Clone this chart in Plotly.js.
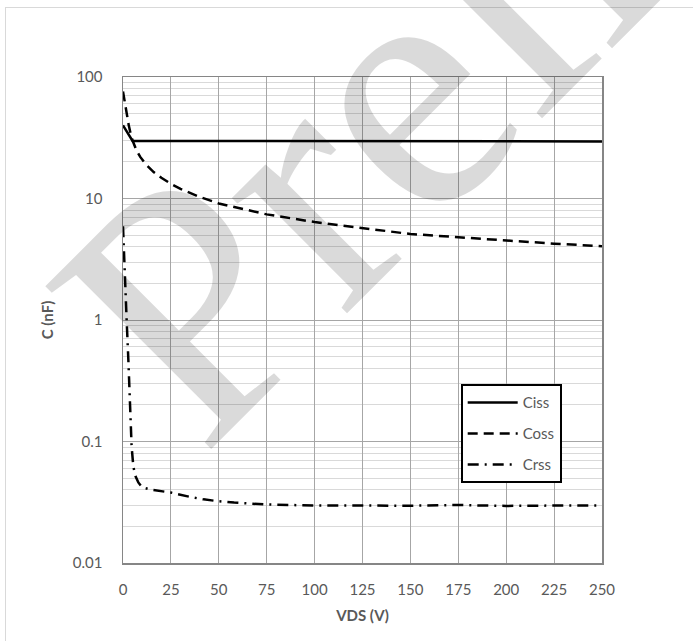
<!DOCTYPE html>
<html>
<head>
<meta charset="utf-8">
<script src="https://cdn.plot.ly/plotly-3.0.1.min.js"></script>
<style>
  html, body { margin: 0; padding: 0; background: #ffffff; }
  #wrap { position: relative; width: 693px; height: 641px; overflow: hidden; background: #ffffff; }
  #frame { position: absolute; left: 5px; top: 7px; width: 720px; height: 660px; border: 1px solid #d9d9d9; box-sizing: border-box; }
  #chart { position: absolute; left: 0; top: 0; width: 693px; height: 641px; }
</style>
</head>
<body>
<div id="wrap">
  <div id="frame"></div>
  <div id="chart"></div>
</div>
<script>
// ---- data ----
const seriesNames = ["Ciss", "Coss", "Crss"];

const vdsCiss = [0, 5, 25, 50, 75, 100, 125, 150, 175, 200, 225, 250];
const ciss    = [40, 29.8, 29.8, 29.8, 29.8, 29.8, 29.8, 29.7, 29.7, 29.6, 29.6, 29.5];

const vdsCoss = [0, 1, 2, 3, 4, 5, 7, 9, 12, 16, 20, 25, 30, 40, 50, 60, 75, 100, 125, 150, 175, 200, 225, 250];
const coss    = [76, 60, 48, 40, 34, 30, 25, 22, 19, 16.5, 14.8, 13.2, 12, 10.3, 9.1, 8.4, 7.4, 6.4, 5.7, 5.1, 4.8, 4.5, 4.25, 4.05];

const vdsCrss = [0, 1, 1.9, 2.8, 3.65, 4.5, 5.4, 6.5, 8, 10, 15, 25, 35, 42, 50, 58, 75, 100, 125, 150, 175, 200, 225, 250];
const crss    = [5.9, 2.7, 1.0, 0.47, 0.195, 0.091, 0.062, 0.052, 0.046, 0.042, 0.040, 0.038, 0.035, 0.0334, 0.0322, 0.0314, 0.0303, 0.0297, 0.0297, 0.0296, 0.0300, 0.0295, 0.0297, 0.0297];

const yTickVals  = [0.01, 0.1, 1, 10, 100];
const yTickText  = ["0.01", "0.1", "1", "10", "100"];
const xTitle = "VDS (V)";
const yTitle = "C (nF)";
const watermark = "Preliminary";

// ---- chart ----
const FONT = "Lato, 'Open Sans', sans-serif";
const TXT = "#595959";

const traces = [
  { x: vdsCiss, y: ciss, name: seriesNames[0], legendgroup: "a", mode: "lines",
    line: { color: "#000000", width: 2.5, dash: "solid" } },
  { x: vdsCoss, y: coss, name: seriesNames[1], legendgroup: "b", mode: "lines",
    line: { color: "#000000", width: 2.5, dash: "10px,6px" } },
  { x: vdsCrss, y: crss, name: seriesNames[2], legendgroup: "c", mode: "lines",
    line: { color: "#000000", width: 2.5, dash: "11px,6px,2px,6px" } }
];

const layout = {
  width: 693, height: 641,
  margin: { l: 123, r: 91, t: 77, b: 78, pad: 0 },
  paper_bgcolor: "rgba(0,0,0,0)",
  plot_bgcolor: "#ffffff",
  font: { family: FONT, size: 15, color: TXT },
  showlegend: true,
  legend: {
    x: 0.705, y: 0.368, xanchor: "left", yanchor: "top",
    bgcolor: "#ffffff", bordercolor: "#000000", borderwidth: 2,
    font: { family: FONT, size: 15, color: TXT },
    itemwidth: 50, traceorder: "grouped", tracegroupgap: 8.5
  },
  xaxis: {
    range: [0, 250], tick0: 0, dtick: 25,
    showgrid: true, gridcolor: "#a6a6a6", gridwidth: 1,
    showline: true, linecolor: "#868686", linewidth: 1.5, mirror: true,
    zeroline: false, ticks: "", ticklabelstandoff: 12,
    tickfont: { family: FONT, size: 15, color: TXT },
    title: { text: xTitle, standoff: 14, font: { family: FONT, size: 15, color: TXT, weight: "bold" } },
    fixedrange: true
  },
  yaxis: {
    type: "log", range: [-2, 2],
    tickvals: yTickVals, ticktext: yTickText,
    showgrid: true, gridcolor: "#a6a6a6", gridwidth: 1,
    minor: { dtick: "D1", showgrid: true, gridcolor: "#d9d9d9", gridwidth: 1, ticks: "" },
    showline: true, linecolor: "#868686", linewidth: 1.5, mirror: true,
    zeroline: false, ticks: "", ticklabelstandoff: 16,
    tickfont: { family: FONT, size: 15, color: TXT },
    title: { text: yTitle, standoff: 15, font: { family: FONT, size: 15, color: TXT, weight: "bold" } },
    fixedrange: true
  },
  annotations: [{
    text: watermark, xref: "paper", yref: "paper",
    x: 1.228, y: 1.6084, xanchor: "center", yanchor: "middle",
    textangle: -45, showarrow: false,
    font: { family: "'Liberation Serif', 'DejaVu Serif', serif", size: 355, color: "rgba(0,0,0,0.145)" }
  }]
};

Plotly.newPlot("chart", traces, layout, { staticPlot: true, displayModeBar: false });
</script>
</body>
</html>
